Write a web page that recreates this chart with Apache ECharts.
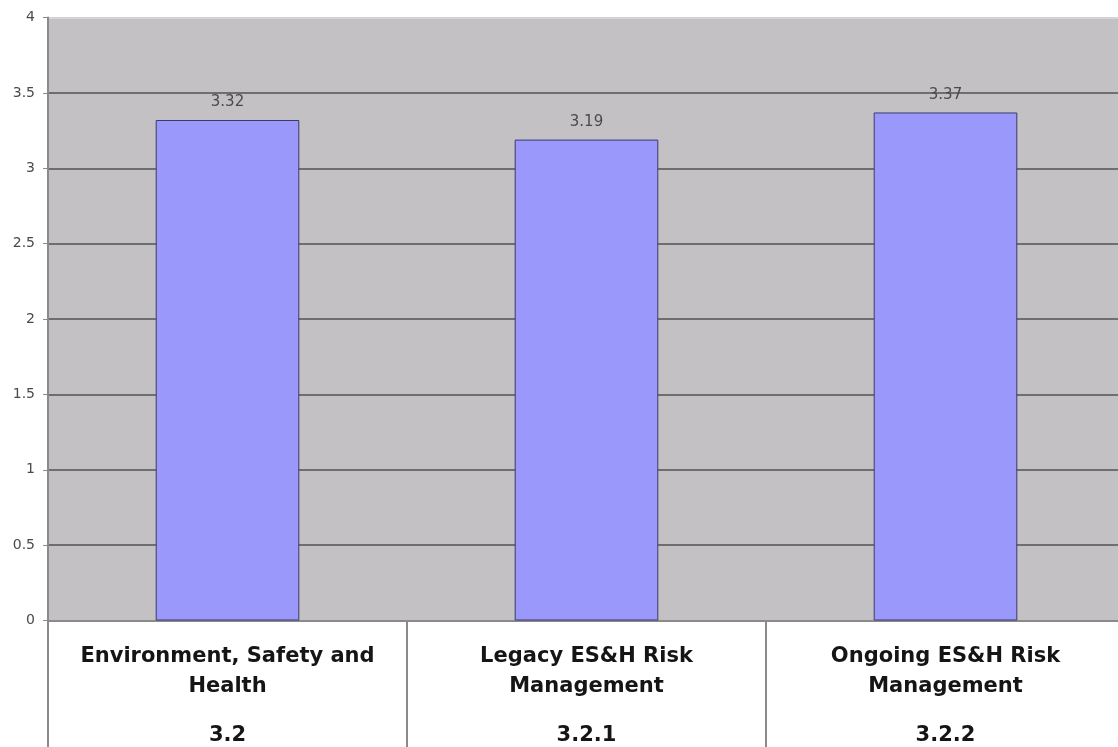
<!DOCTYPE html>
<html>
<head>
<meta charset="utf-8">
<style>
  html, body { margin: 0; padding: 0; background: #ffffff; overflow: hidden; }
  #chart { width: 1125px; height: 747px; }
</style>
<script src="https://cdn.jsdelivr.net/npm/echarts@6/dist/echarts.min.js"></script>
</head>
<body>
<div id="chart"></div>
<script>
// Average scores per ES&H area
const categoryNames = ['Environment, Safety and\nHealth', 'Legacy ES&H Risk\nManagement', 'Ongoing ES&H Risk\nManagement'];
const categoryCodes = ['3.2', '3.2.1', '3.2.2'];
const scores = [3.32, 3.19, 3.37];
const yTicks = { min: 0, max: 4, interval: 0.5 };

// gridline colours: the top edge of the plot is drawn lighter
const gridColors = ['#6e6e6e', '#6e6e6e', '#6e6e6e', '#6e6e6e', '#6e6e6e', '#6e6e6e', '#6e6e6e', '#6e6e6e', '#d4d3d5'];

const chart = echarts.init(document.getElementById('chart'), null, { renderer: 'canvas' });

const labelFont = 'DejaVu Sans, Verdana, sans-serif';

chart.setOption({
  animation: false,
  backgroundColor: '#ffffff',
  textStyle: { fontFamily: labelFont },
  grid: {
    left: 48, right: 0, top: 17.5, bottom: 126.5,
    show: true,
    backgroundColor: '#c3c1c4',
    borderWidth: 0
  },
  xAxis: {
    type: 'category',
    data: categoryNames,
    boundaryGap: true,
    axisLine: { show: true, lineStyle: { color: '#8a8a8a', width: 2 } },
    axisTick: {
      show: true, inside: false, length: 130,
      lineStyle: { color: '#8a8a8a', width: 2 }
    },
    axisLabel: {
      margin: 21,
      interval: 0,
      formatter: (value, idx) => '{n|' + value + '}\n{c|' + categoryCodes[idx] + '}',
      rich: {
        n: { fontSize: 21, fontWeight: 'bold', color: '#151515', lineHeight: 30, fontFamily: labelFont },
        c: { fontSize: 21, fontWeight: 'bold', color: '#151515', lineHeight: 68, fontFamily: labelFont }
      }
    },
    splitLine: { show: false }
  },
  yAxis: {
    type: 'value',
    min: yTicks.min, max: yTicks.max, interval: yTicks.interval,
    axisLine: { show: true, lineStyle: { color: '#8a8a8a', width: 2 } },
    axisTick: { show: true, length: 5, lineStyle: { color: '#8a8a8a' } },
    axisLabel: { fontSize: 14, color: '#4a4a4a', margin: 13, fontFamily: labelFont },
    splitLine: { show: true, lineStyle: { color: gridColors, width: 2 } }
  },
  series: [{
    type: 'bar',
    data: scores,
    barWidth: '40%',
    itemStyle: { color: '#9a99fb', borderColor: '#3a3a6a', borderWidth: 1 },
    label: {
      show: true, position: 'top', distance: 10,
      fontSize: 15, color: '#4a4a4a', fontFamily: labelFont,
      formatter: p => p.value.toFixed(2)
    }
  }]
});
</script>
</body>
</html>
